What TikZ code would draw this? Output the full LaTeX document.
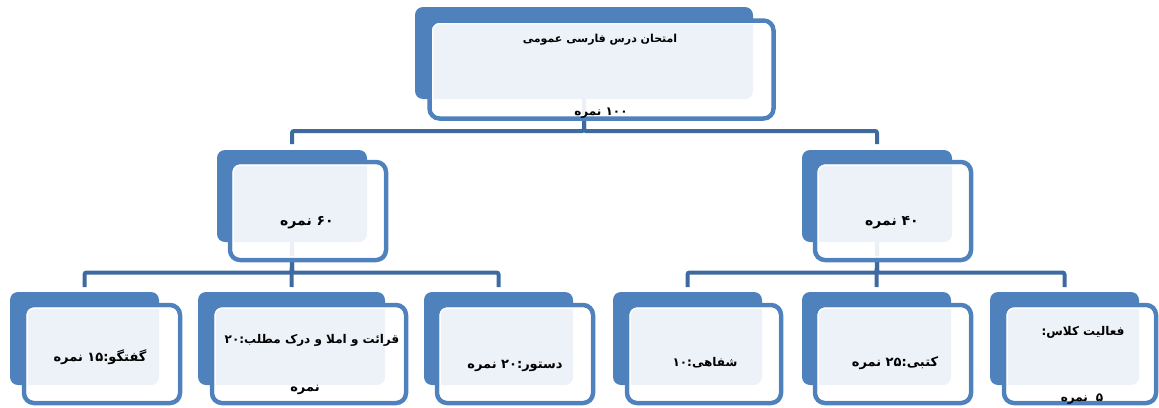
\documentclass[tikz,border=0pt]{standalone}
\usepackage{fontspec}
\usetikzlibrary{fit,calc}
\TeXXeTstate=1
\newfontfamily\arabicfont[Script=Arabic]{DejaVu Sans}
\definecolor{accent}{RGB}{79,129,189}
\definecolor{conncol}{RGB}{62,106,159}
\pgfdeclarelayer{bg}
\pgfsetlayers{bg,main}
\tikzset{
  backbox/.style={fill=accent, draw=none, rounded corners=8pt, inner sep=0pt, outer sep=0pt},
  frontbox/.style={fill=white, fill opacity=0.9, draw=accent, line width=4.5pt, rounded corners=10pt, inner sep=0pt, outer sep=0pt},
  innerline/.style={draw=white, line width=1.2pt, rounded corners=7pt},
  conn/.style={draw=conncol, line width=4pt, rounded corners=2pt},
  txt/.style={font=\arabicfont\bfseries\fontsize{13}{15}\selectfont, text=black, inner sep=0pt},
  fsz/.style={font=\arabicfont\bfseries\fontsize{#1}{#1}\selectfont},
}
\newcommand\orgunit[9]{%
  \node[backbox, fit={(#2,#3) (#4,#5)}] (#1b) {};
  \node[frontbox, fit={(#6,#7) (#8,#9)}] (#1f) {};
  \draw[innerline] ($(#1f.north west)+(3.2,3.2)$) rectangle ($(#1f.south east)+(-3.2,-3.2)$);
}
\begin{document}
\begin{tikzpicture}[x=1pt,y=-1pt]
\useasboundingbox (0,0) rectangle (1159,407);
% units
\orgunit{top}{415}{7}{753}{99}{429.5}{20.5}{773.5}{118.5}
\orgunit{ml}{217}{150}{367}{242}{230}{162}{386}{260}
\orgunit{mr}{802}{150}{952}{242}{815}{162}{971}{260}
\orgunit{ba}{10}{292}{159}{385}{24}{305}{180}{403}
\orgunit{bb}{198}{292}{385}{385}{212}{305}{406}{403}
\orgunit{bc}{424}{292}{573}{385}{437}{305}{593}{403}
\orgunit{bd}{613}{292}{762}{385}{627}{305}{781}{403}
\orgunit{be}{802}{292}{951}{385}{815}{305}{971}{403}
\orgunit{bf}{990}{292}{1139}{385}{1004}{305}{1156}{403}
% connectors
\begin{pgfonlayer}{bg}
\draw[conn, shorten >=6pt] (topb.south) -- ++(0,32) -| (mlb.north);
\draw[conn, shorten >=6pt] (topb.south) -- ++(0,32) -| (mrb.north);
\draw[conn, shorten >=5pt] (mlb.south) -- ++(0,30.5) -| (bab.north);
\draw[conn, shorten >=5pt] (mlb.south) -- (bbb.north);
\draw[conn, shorten >=5pt] (mlb.south) -- ++(0,30.5) -| (bcb.north);
\draw[conn, shorten >=5pt] (mrb.south) -- ++(0,30.5) -| (bdb.north);
\draw[conn, shorten >=5pt] (mrb.south) -- (beb.north);
\draw[conn, shorten >=5pt] (mrb.south) -- ++(0,30.5) -| (bfb.north);
\end{pgfonlayer}
% texts
\node[txt, fsz=11] (t1) at (600,40) {\beginR امتحان درس فارسی عمومی\endR};
\node[txt, fsz=12] (t2) at (601,113) {\beginR ۱۰۰ نمره\endR};
\node[txt, fsz=14] (t3) at (307,223) {\beginR ۶۰ نمره\endR};
\node[txt, fsz=14] (t4) at (892,223) {\beginR ۴۰ نمره\endR};
\node[txt] (t5) at (100,357) {\beginR گفتگو:۱۵ نمره\endR};
\node[txt, fsz=12] (t6) at (312,340) {\beginR قرائت و املا و درک مطلب:۲۰\endR};
\node[txt] (t7) at (305,390) {\beginR نمره\endR};
\node[txt] (t8) at (515,366) {\beginR دستور:۲۰ نمره\endR};
\node[txt, fsz=12] (t9) at (705,363) {\beginR شفاهی:۱۰\endR};
\node[txt] (t10) at (895,363) {\beginR کتبی:۲۵ نمره\endR};
\node[txt, fsz=12] (t11) at (1083,332) {\beginR فعالیت کلاس:\endR};
\node[txt, fsz=12] (t12) at (1082,399) {\beginR ۵\hspace{8pt}نمره\endR};
\end{tikzpicture}
\end{document}
